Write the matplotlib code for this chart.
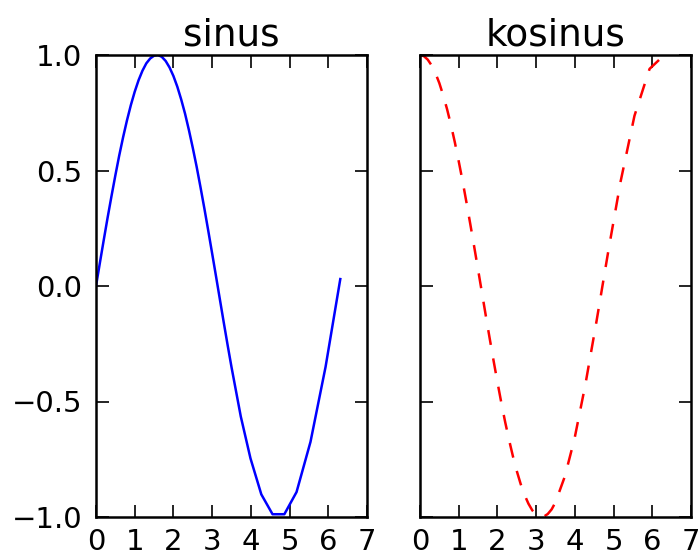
import matplotlib
matplotlib.use("Agg")
import matplotlib.pyplot as plt

# Sample points (x) with the sine and cosine values read at each point
x_vals = [0.0, 0.1, 0.2, 0.3, 0.4, 0.5, 0.6, 0.7, 0.8, 0.9,
          1.0, 1.1, 1.2, 1.3, 1.4, 1.5, 1.6, 1.7, 1.8, 1.9,
          2.0, 2.1, 2.2, 2.3, 2.4, 2.5, 2.6, 2.7, 2.8, 2.9,
          3.0, 3.1, 3.2, 3.3, 3.4, 3.5, 3.74, 3.99, 4.27, 4.56,
          4.865, 5.18, 5.54, 5.93, 6.31]
sin_vals = [0.000, 0.100, 0.199, 0.296, 0.389, 0.479, 0.565, 0.644, 0.717, 0.783,
            0.841, 0.891, 0.932, 0.964, 0.985, 0.997, 1.000, 0.992, 0.974, 0.946,
            0.909, 0.863, 0.808, 0.746, 0.675, 0.598, 0.516, 0.427, 0.335, 0.239,
            0.141, 0.042, -0.058, -0.158, -0.256, -0.351, -0.565, -0.746, -0.902, -0.988,
            -0.988, -0.892, -0.675, -0.350, 0.030]
cos_vals = [1.000, 0.995, 0.980, 0.955, 0.921, 0.878, 0.825, 0.765, 0.697, 0.622,
            0.540, 0.454, 0.362, 0.267, 0.170, 0.071, -0.029, -0.129, -0.227, -0.323,
            -0.416, -0.505, -0.589, -0.666, -0.737, -0.801, -0.857, -0.904, -0.942, -0.971,
            -0.990, -0.999, -0.998, -0.987, -0.967, -0.936, -0.825, -0.662, -0.428, -0.152,
            0.152, 0.451, 0.737, 0.940, 1.000]

x_ticks = [0, 1, 2, 3, 4, 5, 6, 7]
y_ticks = [-1.0, -0.5, 0.0, 0.5, 1.0]
titles = ["sinus", "kosinus"]

plt.rcParams["font.family"] = "DejaVu Sans"

fig = plt.figure(figsize=(7.0, 5.52), dpi=100)
fig.patch.set_facecolor("white")

ax1 = fig.add_axes([96 / 700, 1 - 517 / 552, 271 / 700, 462 / 552])
ax2 = fig.add_axes([420 / 700, 1 - 517 / 552, 271 / 700, 462 / 552], sharey=ax1)

ax1.plot(x_vals, sin_vals, color="#0000ff", lw=1.8)
ax2.plot(x_vals, cos_vals, color="#ff0000", lw=1.8, linestyle=(0, (6, 5.5)))

for ax, title in zip((ax1, ax2), titles):
    ax.set_xlim(0, 7)
    ax.set_ylim(-1.0, 1.0)
    ax.set_xticks(x_ticks)
    ax.set_yticks(y_ticks)
    ax.set_title(title, fontsize=27, pad=7)
    for sp in ax.spines.values():
        sp.set_linewidth(1.8)
    ax.tick_params(axis="both", which="major", direction="in", length=9, width=1.2,
                   top=True, right=True, labelsize=21, colors="black")
    ax.tick_params(axis="x", pad=8)
    ax.tick_params(axis="y", pad=10)

ax2.tick_params(axis="y", labelleft=False)

fig.savefig("out.png", dpi=100, facecolor="white")
